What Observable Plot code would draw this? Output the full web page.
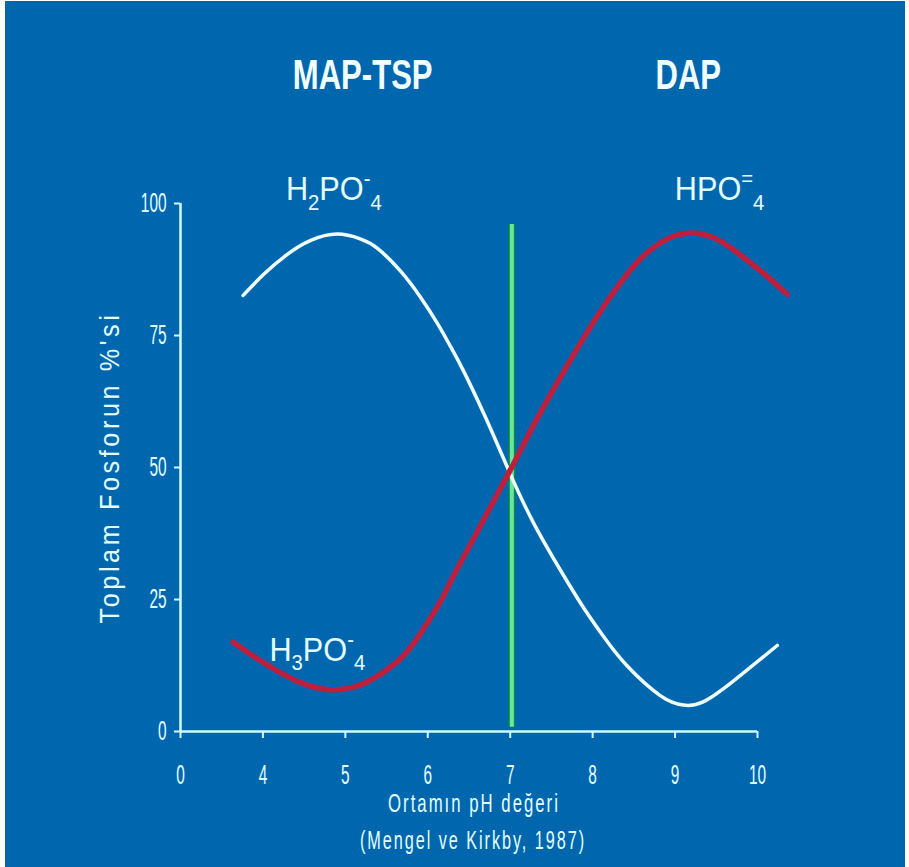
<!DOCTYPE html>
<html><head><meta charset="utf-8">
<script src="https://cdn.jsdelivr.net/npm/d3@7"></script>
<script src="https://cdn.jsdelivr.net/npm/@observablehq/plot@0.6"></script>
<style>
html,body{margin:0;padding:0;background:#ffffff;}
#chart{position:absolute;left:5px;top:1px;width:900px;height:866px;background:#0067af;overflow:hidden;}
#chart svg{display:block;}
</style></head>
<body><div id="chart"></div>
<script>
// ---- data ----
const xTicks = [3, 4, 5, 6, 7, 8, 9, 10];
const xTickLabels = ["0", "4", "5", "6", "7", "8", "9", "10"];
const yTicks = [0, 25, 50, 75, 100];

// H2PO4- (white curve)
const h2po4PH  = [3.76, 4.01, 4.30, 4.58, 4.90, 5.18, 5.39, 5.67, 5.91, 6.12, 6.28, 6.43, 6.70, 7.00, 7.30, 7.65, 7.90, 8.15, 8.42, 8.82, 9.10, 9.34, 9.71, 10.24];
const h2po4Pct = [82.6, 86.6, 90.4, 93.0, 94.2, 93.3, 91.5, 87.2, 82.3, 77.2, 72.8, 68.4, 59.5, 48.8, 39.0, 29.5, 23.2, 17.6, 12.4, 6.8, 5.0, 5.6, 9.6, 16.3];

// HPO4= (red curve)
const hpo4PH  = [3.64, 3.97, 4.30, 4.54, 4.82, 5.10, 5.34, 5.67, 5.91, 6.15, 6.28, 6.52, 7.00, 7.30, 7.57, 7.82, 8.10, 8.34, 8.58, 8.91, 9.22, 9.51, 9.79, 10.07, 10.36];
const hpo4Pct = [16.9, 13.4, 10.4, 8.8, 7.9, 8.4, 10.0, 13.8, 18.5, 24.5, 28.5, 35.5, 49.5, 58.5, 66.0, 72.7, 79.7, 85.0, 89.5, 93.3, 94.4, 93.2, 90.3, 86.8, 82.8];

// neutral pH marker (green line)
const neutralPH = [7.02];
const neutralFrom = [0.8];
const neutralTo = [96];

// labels
const titleText = ["MAP-TSP", "DAP"];
const titlePH = [5.21, 9.16];
const titlePct = [124.2, 124.2];

const speciesText = ["H_2PO^-_4", "HPO^=_4", "H_3PO^-_4"];
const speciesPH = [4.86, 9.54, 4.66];
const speciesPct = [102.6, 102.6, 15.3];

const xLabel = "Ortamın pH değeri";
const sourceText = "(Mengel ve Kirkby, 1987)";
const yLabel = "Toplam Fosforun %'si";

// ---- tables ----
const white = h2po4PH.map((p, i) => ({pH: p, pct: h2po4Pct[i]}));
const red = hpo4PH.map((p, i) => ({pH: p, pct: hpo4Pct[i]}));
const neutral = neutralPH.map((p, i) => ({pH: p, lo: neutralFrom[i], hi: neutralTo[i]}));
const titles = titleText.map((t, i) => ({t, pH: titlePH[i], pct: titlePct[i]}));
const species = speciesText.map((t, i) => ({t, pH: speciesPH[i], pct: speciesPct[i]}));

const fg = "#e4ffff";
const axisColor = "#d2fbff";

const svg = Plot.plot({
  width: 900, height: 866,
  marginLeft: 175, marginRight: 148, marginTop: 202, marginBottom: 136,
  x: {domain: [xTicks[0], xTicks[xTicks.length - 1]], axis: null},
  y: {domain: [yTicks[0], yTicks[yTicks.length - 1]], axis: null},
  style: {background: "transparent", color: fg, fontFamily: "'Liberation Sans', Arial, sans-serif", overflow: "visible"},
  marks: [
    Plot.ruleY([yTicks[0]], {stroke: axisColor, strokeWidth: 2.5}),
    Plot.ruleX([xTicks[0]], {stroke: axisColor, strokeWidth: 2.5}),
    Plot.axisX({ticks: xTicks, tickFormat: d => xTickLabels[xTicks.indexOf(d)], tickSize: 7, tickPadding: 26, fontSize: 28, label: null, stroke: axisColor, strokeWidth: 2, fill: fg}),
    Plot.axisY({ticks: yTicks, tickSize: 6, tickPadding: 8, fontSize: 28, label: null, stroke: axisColor, strokeWidth: 2, fill: fg}),
    Plot.ruleX(neutral, {x: "pH", y1: "lo", y2: "hi", stroke: "#078a45", strokeWidth: 7}),
    Plot.ruleX(neutral, {x: "pH", y1: "lo", y2: "hi", stroke: "#6ee39c", strokeWidth: 4}),
    Plot.line(white, {x: "pH", y: "pct", stroke: "#f0ffff", strokeWidth: 3.5, curve: "natural"}),
    Plot.line(red, {x: "pH", y: "pct", stroke: "#bd1f3e", strokeWidth: 5.5, curve: "natural"}),
    Plot.text(titles, {x: "pH", y: "pct", text: "t", fontSize: 42, fontWeight: "bold", fill: "#f2ffff"}),
    Plot.text(species, {x: "pH", y: "pct", text: "t", fontSize: 33, fill: fg}),
    Plot.text([xLabel], {frameAnchor: "bottom", lineAnchor: "middle", textAnchor: "middle", dy: 72, dx: 5, fontSize: 25, fill: fg}),
    Plot.text([sourceText], {frameAnchor: "bottom", lineAnchor: "middle", textAnchor: "middle", dy: 109, dx: 4, fontSize: 25, fill: fg}),
    Plot.text([yLabel], {frameAnchor: "left", textAnchor: "middle", lineAnchor: "middle", rotate: -90, dx: -70, fontSize: 28, fill: fg})
  ]
});
document.getElementById("chart").appendChild(svg);

// ---- text post-processing (condensed look, sub/superscripts) ----
function squeeze(el, sx) {
  const x = parseFloat(el.getAttribute("x")) || 0;
  const t = el.getAttribute("transform") || "";
  el.setAttribute("transform", `${t} translate(${x},0) scale(${sx},1) translate(${-x},0)`);
}
function rich(el, src, base) {
  const small = base * 0.66;
  const parts = [];
  for (let i = 0; i < src.length; i++) {
    const c = src[i];
    if (c === "_") { parts.push({s: src[++i], shift: base * 0.28, small: true}); }
    else if (c === "^") { parts.push({s: src[++i], shift: -base * 0.42, small: true}); }
    else parts.push({s: c, shift: 0, small: false});
  }
  el.textContent = "";
  let cur = 0;
  for (const p of parts) {
    const ts = document.createElementNS("http://www.w3.org/2000/svg", "tspan");
    ts.textContent = p.s;
    ts.setAttribute("dy", (p.shift - cur).toFixed(1));
    if (p.small) ts.setAttribute("font-size", small.toFixed(1));
    cur = p.shift;
    el.appendChild(ts);
  }
}
const tickStrings = new Set([...xTickLabels, ...yTicks.map(String)]);
svg.querySelectorAll("text").forEach(el => {
  const s = el.textContent;
  if (tickStrings.has(s)) squeeze(el, 0.55);
  else if (titleText.includes(s)) squeeze(el, 0.74);
  else if (speciesText.includes(s)) { rich(el, s, 33); squeeze(el, 0.93); }
  else if (s === xLabel) { el.style.letterSpacing = "3px"; squeeze(el, 0.67); }
  else if (s === sourceText) { el.style.letterSpacing = "3px"; squeeze(el, 0.65); }
  else if (s === yLabel) { el.style.letterSpacing = "4px"; squeeze(el, 0.9); }
});
</script>
</body></html>
